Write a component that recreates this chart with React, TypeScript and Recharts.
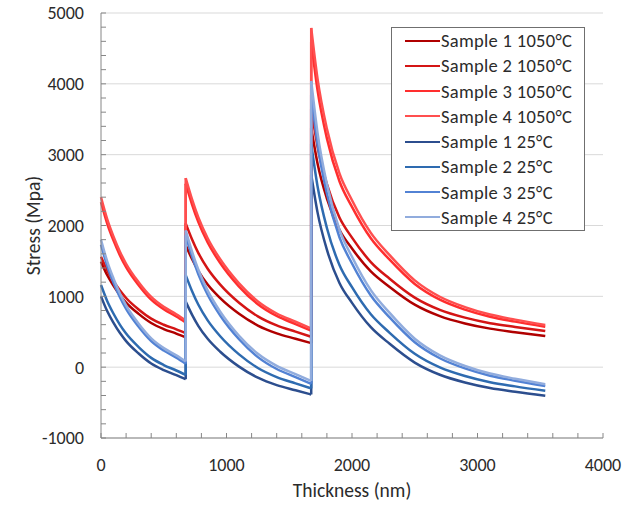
import React from "react";
import {
  LineChart,
  Line,
  XAxis,
  YAxis,
  CartesianGrid,
  Legend,
} from "recharts";

// thickness (nm) — three deposition steps, each step restarts at the same x
const THICKNESS = [
  0, 50, 100, 150, 200, 300, 400, 500, 600, 675,
  675, 725, 775, 850, 950, 1100, 1250, 1400, 1550, 1675,
  1675, 1725, 1800, 1900, 2000, 2150, 2300, 2500, 2700, 2900, 3100, 3300, 3540,
];
// index ranges of the three steps inside the arrays
const STEPS = [
  [0, 10],
  [10, 20],
  [20, 33],
];

const S1_1050 = [
  1490, 1297, 1148, 1019, 912, 752, 623, 538, 474, 420,
  1720, 1527, 1361, 1168, 975, 754, 588, 478, 402, 340,
  3380, 2880, 2381, 1940, 1675, 1352, 1132, 882, 720, 617, 544, 494, 441,
];
const S2_1050 = [
  1560, 1366, 1214, 1085, 977, 815, 685, 599, 534, 480,
  2030, 1806, 1614, 1390, 1166, 910, 718, 590, 502, 430,
  3650, 3116, 2583, 2112, 1829, 1484, 1249, 982, 809, 699, 621, 568, 511,
];
const S3_1050 = [
  2330, 2024, 1786, 1582, 1412, 1157, 953, 817, 715, 630,
  2590, 2300, 2051, 1760, 1470, 1138, 889, 723, 608, 515,
  4600, 3915, 3230, 2625, 2263, 1819, 1517, 1175, 953, 812, 711, 643, 570,
];
const S4_1050 = [
  2400, 2087, 1843, 1634, 1460, 1199, 991, 851, 747, 660,
  2670, 2373, 2118, 1820, 1523, 1183, 928, 758, 641, 545,
  4790, 4077, 3364, 2735, 2357, 1896, 1582, 1225, 994, 848, 743, 671, 596,
];
const S1_25 = [
  1000, 789, 626, 485, 368, 193, 52, -41, -112, -170,
  925, 742, 584, 401, 218, 8, -149, -254, -326, -385,
  2720, 2189, 1658, 1189, 908, 564, 330, 65, -107, -217, -295, -348, -404,
];
const S2_25 = [
  1160, 931, 754, 601, 474, 284, 131, 30, -47, -110,
  1300, 1076, 884, 660, 436, 180, -12, -140, -228, -300,
  3150, 2558, 1965, 1443, 1129, 746, 485, 189, -3, -125, -212, -271, -334,
];
const S3_25 = [
  1730, 1428, 1192, 991, 823, 571, 369, 235, 134, 50,
  1860, 1567, 1316, 1022, 729, 394, 142, -26, -141, -235,
  3850, 3150, 2451, 1834, 1463, 1011, 702, 352, 126, -18, -121, -191, -265,
];
const S4_25 = [
  1800, 1490, 1250, 1043, 871, 613, 407, 269, 166, 80,
  1930, 1633, 1378, 1080, 783, 443, 188, 18, -99, -195,
  4040, 3312, 2585, 1943, 1558, 1087, 766, 402, 167, 17, -90, -163, -240,
];

const X_TICKS = Array.from({ length: 21 }, (_, i) => i * 200);
const Y_TICKS = Array.from({ length: 31 }, (_, i) => -1000 + i * 200);
const Y_GRID = [-1000, 0, 1000, 2000, 3000, 4000, 5000];

const SERIES = [
  { key: "s1h", name: "Sample 1 1050°C", color: "#B00000", values: S1_1050 },
  { key: "s2h", name: "Sample 2 1050°C", color: "#D41515", values: S2_1050 },
  { key: "s3h", name: "Sample 3 1050°C", color: "#FF2E2E", values: S3_1050 },
  { key: "s4h", name: "Sample 4 1050°C", color: "#FF4F4F", values: S4_1050 },
  { key: "s1c", name: "Sample 1 25°C", color: "#2C4E8E", values: S1_25 },
  { key: "s2c", name: "Sample 2 25°C", color: "#2E6BB0", values: S2_25 },
  { key: "s3c", name: "Sample 3 25°C", color: "#5282D4", values: S3_25 },
  { key: "s4c", name: "Sample 4 25°C", color: "#91ACDD", values: S4_25 },
];

// each series -> smooth pieces per step plus the straight jump between steps
type Piece = { id: string; color: string; curve: "monotoneX" | "linear"; data: { x: number; y: number }[] };
const pieces: Piece[] = [];
SERIES.forEach((s) => {
  STEPS.forEach(([a, b], k) => {
    if (k > 0) {
      const prev = STEPS[k - 1][1] - 1;
      pieces.push({
        id: `${s.key}-jump${k}`,
        color: s.color,
        curve: "linear",
        data: [
          { x: THICKNESS[prev], y: s.values[prev] },
          { x: THICKNESS[a], y: s.values[a] },
        ],
      });
    }
    pieces.push({
      id: `${s.key}-step${k}`,
      color: s.color,
      curve: "monotoneX",
      data: THICKNESS.slice(a, b).map((x, i) => ({ x, y: s.values[a + i] })),
    });
  });
});

const FONT = "Carlito, Calibri, Lato, sans-serif";
const AXIS = "#868686";
const TEXT = "#2b2b2b";

function LegendBox() {
  return (
    <div
      style={{
        border: "1px solid #6f6f6f",
        background: "#fff",
        width: 192,
        fontFamily: FONT,
      }}
    >
      {SERIES.map((s) => (
        <div key={s.key} style={{ display: "flex", alignItems: "center", height: 25.25 }}>
          <span
            style={{
              display: "inline-block",
              width: 35,
              marginLeft: 13,
              borderTop: `2.5px solid ${s.color}`,
            }}
          />
          <span style={{ marginLeft: 1, fontSize: 18.5, letterSpacing: 0.3, color: TEXT, whiteSpace: "nowrap" }}>
            {s.name}
          </span>
        </div>
      ))}
    </div>
  );
}

export default function App() {
  return (
    <div style={{ position: "absolute", left: 0, top: 0, background: "#fff" }}>
      <LineChart
        width={637}
        height={508}
        margin={{ top: 13, right: 34, bottom: 8, left: 12 }}
        style={{ fontFamily: FONT }}
      >
        <CartesianGrid horizontalValues={Y_GRID} vertical={false} stroke="#d9d9d9" />
        <XAxis
          dataKey="x"
          type="number"
          domain={[0, 4000]}
          ticks={X_TICKS}
          interval={0}
          height={62}
          allowDuplicatedCategory={false}
          tickFormatter={(v: number) => (v % 1000 === 0 ? String(v) : "")}
          tick={{ fontSize: 18, fill: TEXT }}
          tickSize={-5}
          tickMargin={25}
          tickLine={{ stroke: AXIS }}
          axisLine={{ stroke: AXIS }}
          label={{ value: "Thickness (nm)", position: "insideBottom", offset: 3, fontSize: 19.5, fill: TEXT }}
        />
        <XAxis
          xAxisId="top"
          orientation="top"
          type="number"
          domain={[0, 4000]}
          height={0}
          tick={false}
          tickLine={false}
          axisLine={{ stroke: AXIS }}
        />
        <YAxis
          type="number"
          domain={[-1000, 5000]}
          ticks={Y_TICKS}
          interval={0}
          width={89}
          tickFormatter={(v: number) => (v % 1000 === 0 ? String(v) : "")}
          tick={{ fontSize: 18, fill: TEXT }}
          tickSize={-5}
          tickMargin={22}
          tickLine={{ stroke: AXIS }}
          axisLine={{ stroke: AXIS }}
          label={{
            value: "Stress (Mpa)",
            angle: -90,
            position: "insideLeft",
            offset: 6,
            dx: 15,
            fontSize: 19.5,
            fill: TEXT,
            style: { textAnchor: "middle" },
          }}
        />
        <YAxis
          yAxisId="right"
          orientation="right"
          type="number"
          domain={[-1000, 5000]}
          width={0}
          tick={false}
          tickLine={false}
          axisLine={{ stroke: AXIS }}
        />
        {pieces.map((p) => (
          <Line
            key={p.id}
            data={p.data}
            dataKey="y"
            type={p.curve}
            stroke={p.color}
            strokeWidth={2.5}
            dot={false}
            activeDot={false}
            legendType="none"
            isAnimationActive={false}
          />
        ))}
        <Legend
          layout="vertical"
          align="center"
          verticalAlign="middle"
          wrapperStyle={{ left: 391, top: 27, width: 194 }}
          content={() => <LegendBox />}
        />
      </LineChart>
    </div>
  );
}
